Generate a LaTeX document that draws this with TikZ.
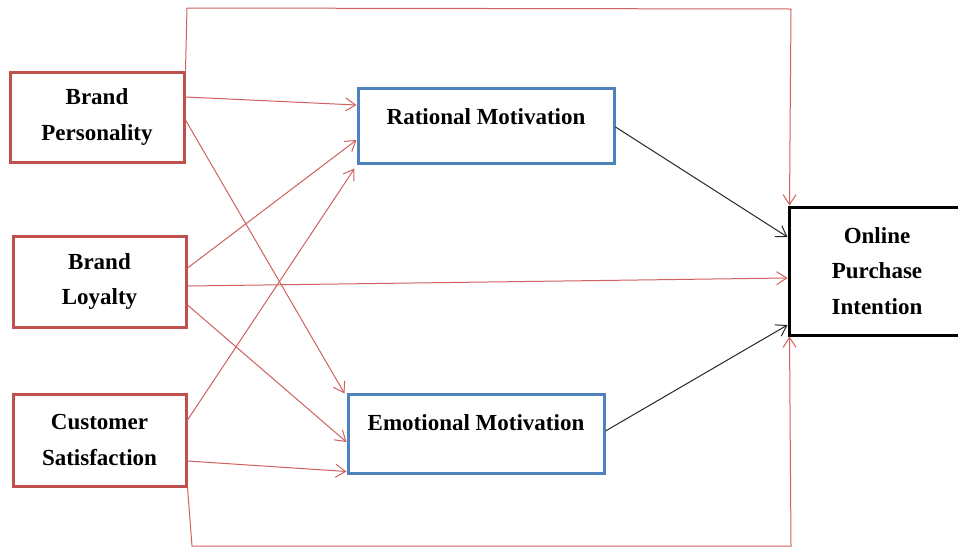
\documentclass[tikz,border=0pt]{standalone}
\usepackage{fontspec}
\setmainfont{Liberation Serif}
\usetikzlibrary{arrows.meta}
\definecolor{boxred}{HTML}{C0504D}
\definecolor{boxblue}{HTML}{4F81BD}
\definecolor{linered}{HTML}{D06060}
\begin{document}
\begin{tikzpicture}[x=1pt,y=-1pt,
  every node/.style={font=\fontsize{23}{35.5}\selectfont\bfseries, align=center, inner sep=0pt},
  redbox/.style={draw=boxred, line width=3pt},
  bluebox/.style={draw=boxblue, line width=3pt},
  blackbox/.style={draw=black, line width=3pt},
  redarrow/.style={draw=linered, line width=1pt, -{Straight Barb[length=10pt,width=13pt]}},
  blackarrow/.style={draw=black!85, line width=1pt, -{Straight Barb[length=10pt,width=13pt]}},
  redline/.style={draw=linered, line width=1pt}]
\useasboundingbox (0,0) rectangle (958,547);
\node[redbox, minimum width=174pt, minimum height=90pt] (bp) at (97,117) {Brand\\Personality};
\node[redbox, minimum width=173pt, minimum height=91pt] (bl) at (99.5,281.5) {Brand\\Loyalty};
\node[redbox, minimum width=173pt, minimum height=92pt] (cs) at (99.5,440) {Customer\\Satisfaction};
\node[bluebox, minimum width=256pt, minimum height=75pt] (rm) at (486,125.5) {\raisebox{9pt}[\height][\depth]{Rational Motivation}};
\node[bluebox, minimum width=256pt, minimum height=79pt] (em) at (476,433.5) {\raisebox{11pt}[\height][\depth]{Emotional Motivation}};
\node[blackbox, minimum width=176pt, minimum height=128pt] (opi) at (877,271) {Online\\Purchase\\Intention};
\coordinate (t1) at (187,8);
\coordinate (t2) at (791,9);
\coordinate (b1) at (192,546);
\coordinate (b2) at (791,546);
% red arrows
\draw[redarrow] ([yshift=20pt]bp.east) -- ([yshift=20.5pt]rm.west);
\draw[redarrow] ([yshift=-3pt]bp.east) -- ([xshift=-2pt,yshift=-1pt]em.north west);
\draw[redarrow] ([yshift=13.5pt]bl.east) -- ([yshift=-14.5pt]rm.west);
\draw[redarrow] ([yshift=-4.5pt]bl.east) -- ([yshift=-7pt]opi.west);
\draw[redarrow] ([yshift=-23.5pt]bl.east) -- ([yshift=-8.5pt]em.west);
\draw[redarrow] ([yshift=20pt]cs.east) -- ([xshift=-2pt,yshift=-4pt]rm.south west);
\draw[redarrow] ([yshift=-21pt]cs.east) -- ([yshift=3pt]em.south west);
% black arrows
\draw[blackarrow] ([yshift=-1.5pt]rm.east) -- ([yshift=34pt]opi.west);
\draw[blackarrow] ([yshift=2.5pt]em.east) -- ([yshift=-54pt]opi.west);
% loops
\draw[redarrow] (bp.north east) -- (t1) -- (t2) -- ([xshift=2pt]opi.north west);
\draw[redarrow] (cs.south east) -- (b1) -- (b2) -- ([xshift=2pt]opi.south west);
\end{tikzpicture}
\end{document}
